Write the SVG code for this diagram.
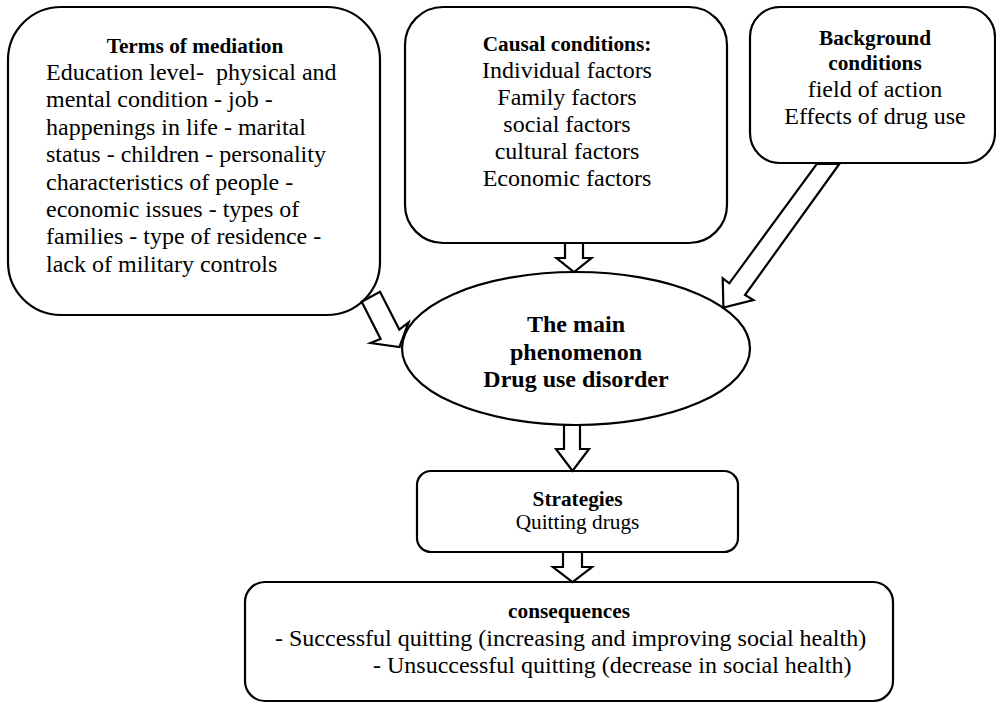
<svg xmlns="http://www.w3.org/2000/svg" width="996" height="703" viewBox="0 0 996 703">
<style>
.box{fill:#fff;stroke:#000;stroke-width:2.2}
.arr{fill:#fff;stroke:#000;stroke-width:2.2;stroke-linejoin:miter}
text{font-family:"Liberation Serif","Times New Roman",serif;fill:#000}
.h{font-size:21.3px;font-weight:bold;text-anchor:middle}
.b{font-size:24px}
.c{text-anchor:middle}
.m{font-size:24px;font-weight:bold;text-anchor:middle}
.s{font-size:21.3px;text-anchor:middle}
</style>
<rect width="996" height="703" fill="#fff"/>
<g id="node-mediation">
<rect class="box" x="8" y="7" width="372" height="308" rx="53" ry="53"/>
<text class="h" x="195" y="53">Terms of mediation</text>
<text class="b" x="46" y="80" xml:space="preserve">Education level-  physical and</text>
<text class="b" x="46" y="107.4">mental condition - job -</text>
<text class="b" x="46" y="134.8">happenings in life - marital</text>
<text class="b" x="46" y="162.2">status - children - personality</text>
<text class="b" x="46" y="189.6">characteristics of people -</text>
<text class="b" x="46" y="217">economic issues - types of</text>
<text class="b" x="46" y="244.4">families - type of residence -</text>
<text class="b" x="46" y="271.8">lack of military controls</text>
</g>
<g id="node-causal">
<rect class="box" x="405" y="7" width="322" height="236" rx="38" ry="38"/>
<text class="h" x="567" y="50.5">Causal conditions:</text>
<text class="b c" x="567" y="77.5">Individual factors</text>
<text class="b c" x="567" y="104.5">Family factors</text>
<text class="b c" x="567" y="131.5">social factors</text>
<text class="b c" x="567" y="158.5">cultural factors</text>
<text class="b c" x="567" y="185.5">Economic factors</text>
</g>
<g id="node-background">
<rect class="box" x="750" y="7" width="245" height="156" rx="30" ry="30"/>
<text class="h" x="875" y="45">Background</text>
<text class="h" x="875" y="70">conditions</text>
<text class="b c" x="875" y="97">field of action</text>
<text class="b c" x="875" y="123.5">Effects of drug use</text>
</g>
<g id="node-phenomenon">
<ellipse class="box" cx="576" cy="348.5" rx="174" ry="76.5"/>
<text class="m" x="576" y="332">The main</text>
<text class="m" x="576" y="359.5">phenomenon</text>
<text class="m" x="576" y="387">Drug use disorder</text>
</g>
<g id="node-strategies">
<rect class="box" x="417" y="471" width="321" height="81" rx="14" ry="14"/>
<text class="h" x="577.5" y="505.5">Strategies</text>
<text class="s" x="577.5" y="529">Quitting drugs</text>
</g>
<g id="node-consequences">
<rect class="box" x="245" y="582" width="648" height="119" rx="20" ry="20"/>
<text class="h" x="569" y="618">consequences</text>
<text class="b" x="275" y="646">- Successful quitting (increasing and improving social health)</text>
<text class="b" x="373" y="673">- Unsuccessful quitting (decrease in social health)</text>
</g>
<g id="connectors">
<polygon class="arr" points="565,243 583,243 583,258 591.5,258 574,272 556.5,258 565,258"/>
<polygon class="arr" points="564,425 580,425 580,449 589,449 572.5,471 556,449 564,449"/>
<polygon class="arr" points="563,552 582,552 582,567 592,567 572.5,582 553,567 563,567"/>
<polygon class="arr" points="361.7,301.7 380.6,338.9 370.5,343 399.5,347 408.5,322.5 399.3,329.6 380,291.7"/>
<polygon class="arr" points="816.7,164 839.3,164 745,295 753.3,300 723.4,307.5 722.7,278.3 729.3,283.3"/>
</g>
</svg>
